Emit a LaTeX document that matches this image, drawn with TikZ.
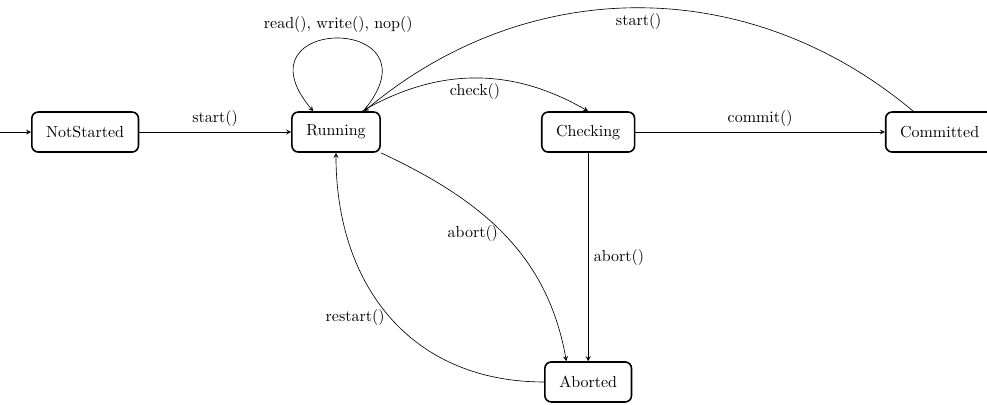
\documentclass[tikz,border=0pt]{standalone}
\usepackage{amsmath}
\usepackage{tikz}

\begin{document}
\begin{tikzpicture}[
	state/.style={shape=rectangle, rounded corners=4pt, draw=black, line width=1pt, minimum height=25pt, inner xsep=9pt},
	>=stealth
]
	\useasboundingbox (-7.38, -5.98) rectangle (14.30, 2.90);
	
	\coordinate (init) at (-7.38, 0);
	\node[state] (ns)  at (-5.51, 0)     {NotStarted};
	\node[state] (run) at (0, 0)         {Running};
	\node[state] (chk) at (5.54, 0)      {Checking};
	\node[state] (com) at (13.26, 0)     {Committed};
	\node[state] (abo) at (5.54, -5.49)  {Aborted};
	
	\path[->] (init) edge (ns);
	\path[->] (ns) edge node[above] {start()} (run);
	\path[->] ([xshift=0.6cm]run.north) edge[out=50, in=130, looseness=6.5] node[above] {read(), write(), nop()} ([xshift=-0.5cm]run.north);
	\path[->] ([xshift=0.57cm]run.north) edge[bend left=30] node[below] {check()} (chk.north);
	\path[->] (chk) edge node[above] {commit()} (com);
	\path[->] ([xshift=-0.58cm]com.north) edge[bend right=40] node[below] {start()} ([xshift=0.62cm]run.north);
	\path[->] (run.south east) edge[out=-25, in=100] node[left] {abort()} ([xshift=-0.48cm]abo.north);
	\path[->] (chk) edge node[right] {abort()} (abo);
	\path[->] (abo.west) edge[out=180, in=-90, looseness=1.1] node[left] {restart()} (run.south);

\end{tikzpicture}
\end{document}
